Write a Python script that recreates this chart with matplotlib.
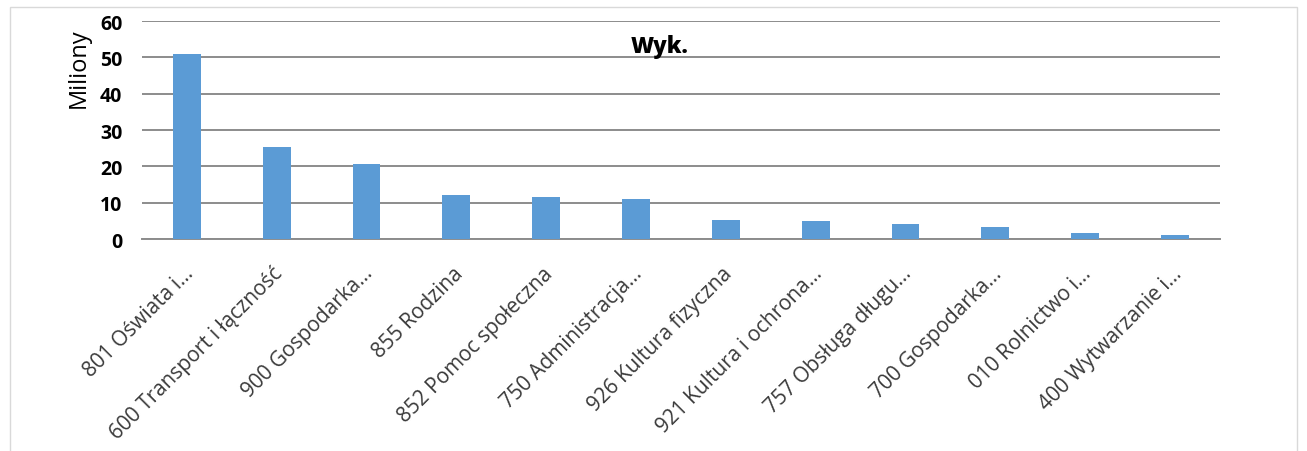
import matplotlib
matplotlib.use("Agg")
import matplotlib.pyplot as plt
import matplotlib.transforms as mtransforms
from matplotlib.patches import Rectangle

# ── Data ─────────────────────────────────────────────
categories = [
    "801 Oświata i...",
    "600 Transport i łączność",
    "900 Gospodarka...",
    "855 Rodzina",
    "852 Pomoc społeczna",
    "750 Administracja...",
    "926 Kultura fizyczna",
    "921 Kultura i ochrona...",
    "757 Obsługa długu...",
    "700 Gospodarka...",
    "010 Rolnictwo i...",
    "400 Wytwarzanie i...",
]
values = [51.0, 25.2, 20.6, 12.2, 11.6, 11.0, 5.3, 4.9, 4.2, 3.2, 1.7, 1.1]
yticks = [0, 10, 20, 30, 40, 50, 60]

plt.rcParams["font.family"] = ["Open Sans", "DejaVu Sans"]

fig = plt.figure(figsize=(13.07, 4.52), dpi=100)
ax = fig.add_axes([0.1086, 0.469, 0.8248, 0.4823])

x = list(range(len(categories)))
ax.bar(x, values, width=0.31, color="#5B9BD5", zorder=3)

ax.set_xlim(-0.5, len(categories) - 0.5)
ax.set_ylim(0, 60)
ax.set_yticks(yticks)
ax.set_yticklabels([str(t) for t in yticks], fontsize=14, fontweight="bold")
ax.yaxis.grid(True, color="#8c8c8c", linewidth=1.4, zorder=0)
ax.set_axisbelow(True)

ax.set_xticks(x)
ax.set_xticklabels(categories, rotation=45, ha="right", rotation_mode="anchor",
                   fontsize=15, color="#3a3a3a")
ax.tick_params(axis="both", length=0)
ax.tick_params(axis="x", pad=17)
ax.tick_params(axis="y", pad=14)
# nudge the slanted labels a little to the left, like the original
shift = mtransforms.ScaledTranslation(-3 / 72, 0, fig.dpi_scale_trans)
for lbl in ax.get_xticklabels():
    lbl.set_transform(lbl.get_transform() + shift)

for side in ("top", "right", "left"):
    ax.spines[side].set_visible(False)
ax.spines["bottom"].set_color("#8c8c8c")
ax.spines["bottom"].set_linewidth(1.4)

ax.text(0.48, 0.885, "Wyk.", transform=ax.transAxes, ha="center", va="center",
        fontsize=16, fontweight="heavy")
fig.text(0.06, 0.85, "Miliony", rotation=90, ha="center", va="center", fontsize=17)

# light frame around the chart (bottom edge falls outside the picture)
fig.patches.append(Rectangle((0.008, -0.05), 0.984, 1.032, transform=fig.transFigure,
                             fill=False, edgecolor="#d9d9d9", linewidth=1))

fig.savefig("out.png", dpi=100)
